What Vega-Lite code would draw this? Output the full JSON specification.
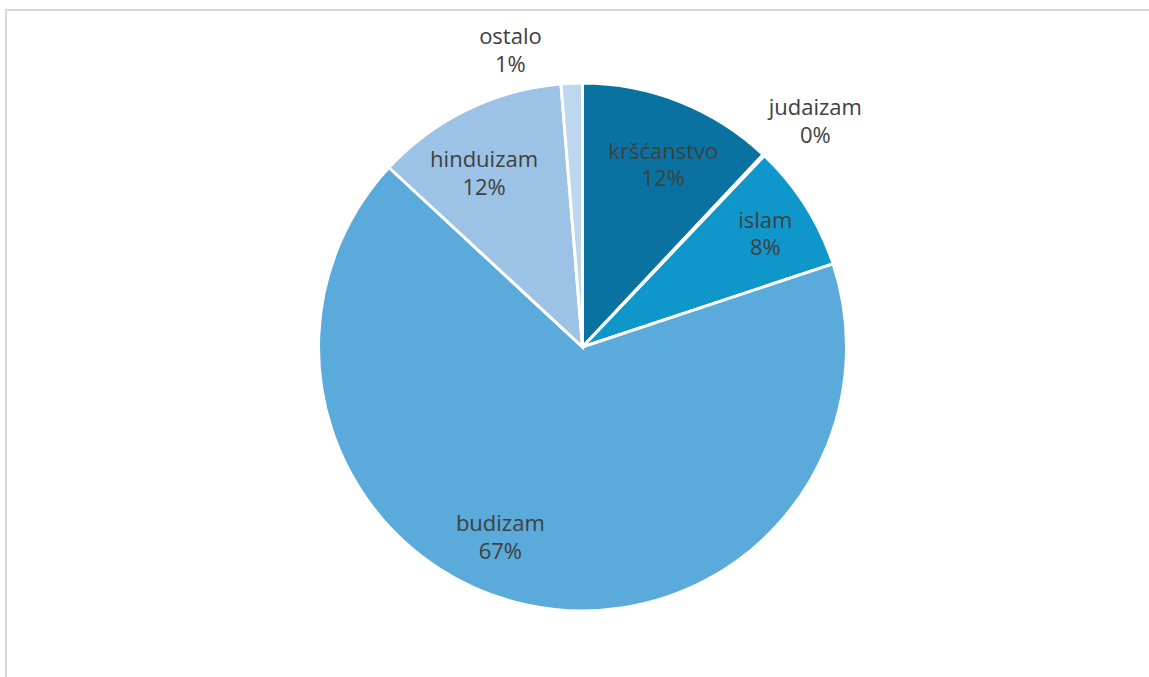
{
  "$schema": "https://vega.github.io/schema/vega-lite/v6.json",
  "width": 1153,
  "height": 674,
  "autosize": {"type": "none"},
  "padding": {"left": 6, "top": 10, "right": 0, "bottom": 0},
  "background": "#ffffff",
  "config": {
    "view": {"stroke": null},
    "text": {"font": "Open Sans", "fontSize": 22, "fill": "#404040", "lineHeight": 27.5, "align": "center", "baseline": "middle"}
  },
  "datasets": {
    "religije": [
      {"religija": "kršćanstvo", "udio": 12.0, "redoslijed": 1},
      {"religija": "judaizam", "udio": 0.1, "redoslijed": 2},
      {"religija": "islam", "udio": 7.8, "redoslijed": 3},
      {"religija": "budizam", "udio": 67.0, "redoslijed": 4},
      {"religija": "hinduizam", "udio": 11.8, "redoslijed": 5},
      {"religija": "ostalo", "udio": 1.3, "redoslijed": 6}
    ],
    "okvir": [{"okvir": "grafikon"}]
  },
  "layer": [
    {
      "data": {"name": "okvir"},
      "mark": {"type": "rect", "fill": null, "stroke": "#d9d9d9", "strokeWidth": 2},
      "encoding": {}
    },
    {
      "data": {"name": "religije"},
      "transform": [
        {"calculate": "[datum.religija, format(datum.udio, '.0f') + '%']", "as": "etiketa"}
      ],
      "encoding": {
        "theta": {"field": "udio", "type": "quantitative", "stack": true},
        "order": {"field": "redoslijed", "type": "quantitative"},
        "detail": {"field": "religija", "type": "nominal"}
      },
      "layer": [
        {
          "mark": {"type": "arc", "outerRadius": 264, "stroke": "#ffffff", "strokeWidth": 3},
          "encoding": {
            "color": {
              "field": "religija",
              "type": "nominal",
              "scale": {
                "domain": ["kršćanstvo", "judaizam", "islam", "budizam", "hinduizam", "ostalo"],
                "range": ["#0a72a0", "#1f5f8b", "#0f96cb", "#5aaadb", "#9cc3e5", "#bdd7ee"]
              },
              "legend": null
            }
          }
        },
        {
          "mark": {"type": "text", "radius": 195, "dx": 9, "dy": -14},
          "encoding": {"text": {"condition": {"test": "datum.religija === 'kršćanstvo'", "field": "etiketa"}, "value": ""}}
        },
        {
          "mark": {"type": "text", "radius": 213, "dx": 3, "dy": -12},
          "encoding": {"text": {"condition": {"test": "datum.religija === 'islam'", "field": "etiketa"}, "value": ""}}
        },
        {
          "mark": {"type": "text", "radius": 200, "dx": -11, "dy": -7},
          "encoding": {"text": {"condition": {"test": "datum.religija === 'hinduizam'", "field": "etiketa"}, "value": ""}}
        },
        {
          "mark": {"type": "text", "radius": 213, "dx": -37, "dy": -31},
          "encoding": {"text": {"condition": {"test": "datum.religija === 'budizam'", "field": "etiketa"}, "value": ""}}
        },
        {
          "mark": {"type": "text", "radius": 320, "dx": 13, "dy": -6},
          "encoding": {"text": {"condition": {"test": "datum.religija === 'judaizam'", "field": "etiketa"}, "value": ""}}
        },
        {
          "mark": {"type": "text", "radius": 296, "dx": -60, "dy": -14},
          "encoding": {"text": {"condition": {"test": "datum.religija === 'ostalo'", "field": "etiketa"}, "value": ""}}
        }
      ]
    }
  ]
}
